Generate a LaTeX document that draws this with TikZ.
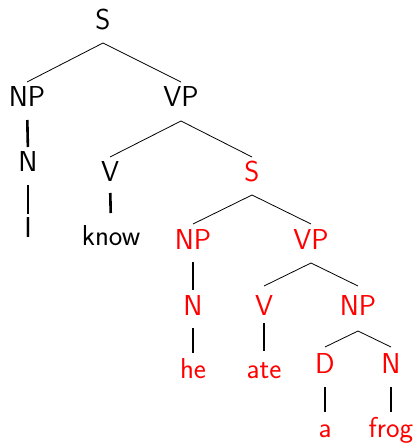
\documentclass[tikz,border=0pt]{standalone}
\usepackage{fontspec}
\begin{document}
\begin{tikzpicture}[x=1pt,y=-1pt,
  lab/.style={anchor=base,inner sep=0pt,outer sep=0pt,text height=20pt,text depth=0pt,
    font=\sffamily\fontsize{28.8}{34}\selectfont},
  blk/.style={lab,text=black},
  rd/.style={lab,text=red},
  branch/.style={draw=black,line width=0.8pt},
  stem/.style={draw=black,line width=2.6pt,shorten <=13pt,shorten >=5pt}]
\useasboundingbox (0,0) rectangle (417,443);
% black part
\node[blk] (S) at (103,30) {S};
\node[blk] (NP1) at (27,107) {NP};
\node[blk] (VP1) at (181,107) {VP};
\node[blk] (N1) at (28,172) {N};
\node[blk] (I) at (28,237) {I};
\node[blk] (V1) at (110,182) {V};
\node[blk] (know) at (111,245) {know};
% red part
\node[rd] (S2) at (252,182) {S};
\node[rd] (NP2) at (193,249) {NP};
\node[rd] (VP2) at (311,249) {VP};
\node[rd] (N2) at (193,315) {N};
\node[rd] (he) at (193,378) {he};
\node[rd] (V2) at (264,315) {V};
\node[rd] (ate) at (264,378) {ate};
\node[rd] (NP3) at (358,315) {NP};
\node[rd] (D) at (325,373) {D};
\node[rd] (a) at (325,437) {a};
\node[rd] (N3) at (391,373) {N};
\node[rd] (frog) at (391,437) {frog};
% branching edges
\draw[branch] ([yshift=5pt]NP1.north) -- ([yshift=-13pt]S.south) -- ([yshift=5pt]VP1.north);
\draw[branch] ([yshift=5pt]V1.north) -- ([yshift=-14pt]VP1.south) -- ([yshift=5pt]S2.north);
\draw[branch] ([yshift=5pt]NP2.north) -- ([yshift=-13pt]S2.south) -- ([yshift=5pt]VP2.north);
\draw[branch] ([yshift=9pt]V2.north) -- ([yshift=-14pt]VP2.south) -- ([yshift=9pt]NP3.north);
\draw[branch] ([yshift=6pt]D.north) -- ([yshift=-16pt]NP3.south) -- ([yshift=6pt]N3.north);
% unary edges
\draw[stem] (NP1.south) -- (N1.north);
\draw[stem,shorten >=3pt] (N1.south) -- (I.north);
\draw[stem,shorten >=12pt,shorten <=11pt] (V1.south) -- (know.north);
\draw[stem] (NP2.south) -- (N2.north);
\draw[stem] (N2.south) -- (he.north);
\draw[stem,shorten <=8pt,shorten >=7pt] (V2.south) -- (ate.north);
\draw[stem,shorten <=14pt] (D.south) -- (a.north);
\draw[stem,shorten <=14pt] (N3.south) -- (frog.north);
\end{tikzpicture}
\end{document}
